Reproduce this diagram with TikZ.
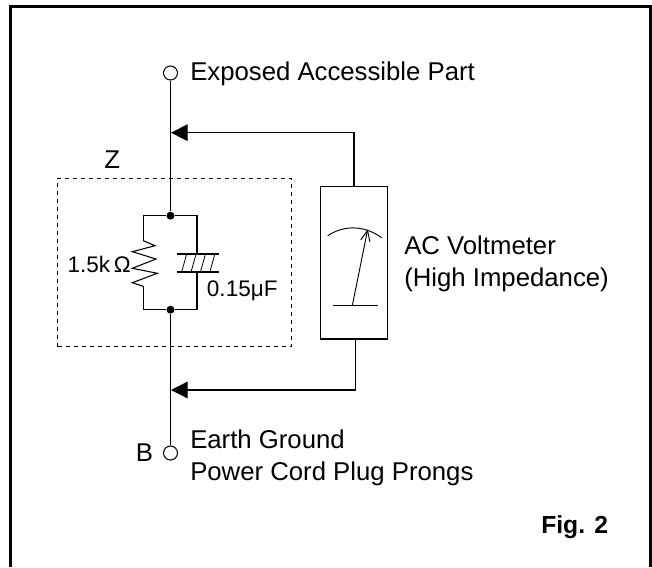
\documentclass[tikz,border=0pt]{standalone}
\usepackage{fontspec}
\setmainfont{Liberation Sans}
\usetikzlibrary{arrows.meta}

\begin{document}
\begin{tikzpicture}
  [x=0.75pt,y=-0.75pt,
   terminalN/.style={circle,draw,minimum size=10.5pt,inner sep=0pt,line width=0.8pt},
   junctionN/.style={circle,fill=black,minimum size=6pt,inner sep=0pt},
   labelN/.style={anchor=base west,inner sep=0pt,font=\fontsize{19.3}{22}\selectfont},
   partN/.style={labelN,font=\fontsize{16.9}{20}\selectfont},
   wire/.style={line width=0.9pt},
   tapArrow/.style={wire,-{Triangle[length=12.5pt,width=12.5pt]}},
   every path/.style={line join=miter}]

  \useasboundingbox (0,0) rectangle (652,567);

  % frame, open at the bottom
  \draw[line width=2.4pt] (10.5,567) -- (10.5,6.5) -- (650.5,6.5) -- (650.5,567);

  \node[terminalN] (top) at (170.5,73)  {};
  \node[terminalN] (bot) at (170.5,453) {};
  \node[junctionN] (jt)  at (170.5,215.7) {};
  \node[junctionN] (jb)  at (170.5,309.7) {};

  \coordinate (tapT) at (171,132.7);
  \coordinate (tapB) at (171,390);

  \node[draw,line width=0.9pt,minimum width=50.2pt,minimum height=114.4pt,inner sep=0pt] (meter) at (354,262.7) {};
  \node[draw,dashed,line width=0.7pt,minimum width=175pt,minimum height=126.3pt,inner sep=0pt] (zbox) at (174.4,262.5) {};

  \coordinate (resT) at (143.3,240.7);
  \coordinate (resB) at (143.3,286.3);
  \coordinate (capT) at (197,254);
  \coordinate (capB) at (197,271.7);

  \draw[wire] (top) -- (jt);
  \draw[wire] (jb) -- (bot);

  % parallel branches
  \draw[wire] (jt) -| (resT);
  \draw[wire] (jt) -| (capT);
  \draw[wire] (jb) -| (resB);
  \draw[wire] (jb) -| (capB);

  % resistor
  \draw[line width=0.8pt] (resT) -- (155,245.7) -- (132.3,251.7) -- (156,259) -- (132.3,268.3)
     -- (157.3,273.3) -- (132.3,282.7) -- (resB);

  % capacitor
  \draw[line width=0.8pt] (177,254) -- (219.3,254);
  \draw[line width=1.4pt] (177,271.7) -- (219.3,271.7);
  \foreach \i in {0,1,2,3}
    \draw[line width=0.6pt] (181.7+9.4*\i,271.7) -- (186.7+9.4*\i,254);

  % meter face
  \draw[line width=0.7pt] (327.7,235.7) .. controls (344,225) and (364,225) .. (381.7,237.7);
  \draw[line width=0.8pt] (333,305.7) -- (377.7,305.7);
  \draw[line width=0.7pt,-{Straight Barb[length=8pt,width=7pt]}] (352.3,305.7) -- (367.7,229.3);

  % meter leads
  \draw[tapArrow] (meter.north -| 354,186.5) |- (tapT);
  \draw[tapArrow] (meter.south -| 355.3,339) |- (tapB);

  \node[labelN] (zLab)   at (104,168.5) {Z};
  \node[partN]  (rLab)   at (67.3,272)  {1.5k\,Ω};
  \node[partN]  (cLab)   at (206.7,296.7) {0.15μF};
  \node[labelN] (topLab) at (190,80)    {Exposed Accessible Part};
  \node[labelN] (vmA)    at (404,254)   {AC Voltmeter};
  \node[labelN] (vmB)    at (404,286)   {(High Impedance)};
  \node[labelN] (bLab)   at (135.7,461.7) {B};
  \node[labelN] (botA)   at (190,448.5) {Earth Ground};
  \node[labelN] (botB)   at (190,480.5) {Power Cord Plug Prongs};
  \node[labelN,font=\fontsize{18.5}{22}\selectfont\bfseries] (figLab) at (541,533) {Fig. 2};
\end{tikzpicture}
\end{document}
